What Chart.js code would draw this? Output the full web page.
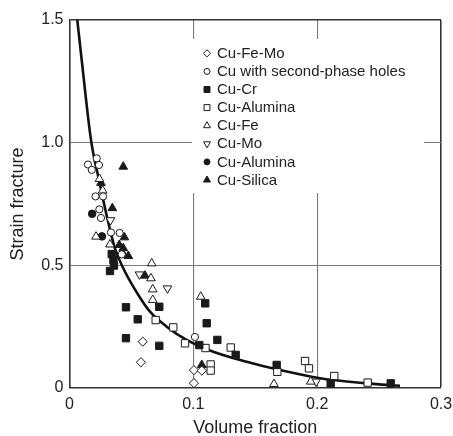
<!DOCTYPE html>
<html>
<head>
<meta charset="utf-8">
<script src="https://cdn.jsdelivr.net/npm/chart.js@4.4.1/dist/chart.umd.min.js"></script>
<style>
  html, body { margin: 0; padding: 0; background: #ffffff; }
  #wrap { width: 453px; height: 436px; position: relative; }
</style>
</head>
<body>
<div id="wrap"><canvas id="c" width="453" height="436"></canvas></div>
<script>
// ---- data ----
const xTickLabels = ['0', '0.1', '0.2', '0.3'];
const yTickLabels = ['0', '0.5', '1.0', '1.5'];

const seriesNames = ['Cu-Fe-Mo', 'Cu with second-phase holes', 'Cu-Cr', 'Cu-Alumina',
                     'Cu-Fe', 'Cu-Mo', 'Cu-Alumina', 'Cu-Silica'];

const cuFeMo = [[0.0591,0.189],[0.0577,0.105],[0.1005,0.073],[0.1068,0.071],[0.1005,0.020]];
const cuHoles = [[0.0220,0.936],[0.0149,0.911],[0.0238,0.909],[0.0180,0.889],[0.0210,0.781],
                 [0.0271,0.781],[0.0241,0.728],[0.0254,0.693],[0.0335,0.634],[0.0405,0.632],
                 [0.0422,0.545],[0.1013,0.208]];
const cuCr = [[0.0341,0.546],[0.0355,0.522],[0.0359,0.499],[0.0327,0.477],[0.0456,0.329],
              [0.0725,0.331],[0.0551,0.280],[0.0456,0.203],[0.0725,0.172],[0.1048,0.175],
              [0.1096,0.345],[0.1108,0.264],[0.1194,0.196],[0.1342,0.135],[0.1673,0.094],
              [0.2109,0.019],[0.2594,0.019]];
const cuAluminaOpen = [[0.0696,0.277],[0.0838,0.247],[0.0933,0.182],[0.1098,0.163],[0.1302,0.165],
                       [0.1140,0.096],[0.1140,0.071],[0.1678,0.066],[0.1902,0.110],[0.1934,0.080],
                       [0.2138,0.049],[0.2408,0.022]];
const cuFe = [[0.0242,0.852],[0.0268,0.805],[0.0214,0.617],[0.0327,0.585],[0.0664,0.508],
              [0.0658,0.447],[0.0672,0.402],[0.0672,0.359],[0.1060,0.372],[0.1651,0.016],
              [0.1948,0.026]];
const cuMo = [[0.0331,0.684],[0.0565,0.463],[0.0791,0.406],[0.1991,0.026]];
const cuAluminaFilled = [[0.0183,0.710],[0.0262,0.618]];
const cuSilica = [[0.0434,0.902],[0.0254,0.836],[0.0346,0.733],[0.0443,0.614],[0.0402,0.583],
                  [0.0434,0.570],[0.0428,0.551],[0.0475,0.538],[0.0610,0.458],[0.1068,0.094]];

// fitted trend curve
const curveX = [0.0063,0.00985,0.01736,0.0238,0.03085,0.0367,0.0434,0.0556,0.0650,0.0785,
                0.0946,0.1161,0.1431,0.1673,0.2023,0.2400,0.2669];
const curveY = [1.500,1.337,1.011,0.848,0.685,0.569,0.488,0.379,0.311,0.250,
                0.196,0.148,0.107,0.076,0.040,0.019,0.0094];

// ---- build chart ----
const FONT = '"Liberation Sans", Arial, Helvetica, sans-serif';
const INK = '#1a1a1a';
const toPts = arr => arr.map(p => ({x: p[0], y: p[1]}));

const markerStyles = [
  {style: 'rectRot',  radius: 4.6, rotation: 0,   fill: '#ffffff', lr: 3.6},
  {style: 'circle',   radius: 3.6, rotation: 0,   fill: '#ffffff', lr: 3.0},
  {style: 'rect',     radius: 5.2, rotation: 0,   fill: INK,       lr: 4.2},
  {style: 'rect',     radius: 5.2, rotation: 0,   fill: '#ffffff', lr: 4.2},
  {style: 'triangle', radius: 5.0, rotation: 0,   fill: '#ffffff', lr: 4.0},
  {style: 'triangle', radius: 5.0, rotation: 180, fill: '#ffffff', lr: 4.0},
  {style: 'circle',   radius: 3.8, rotation: 0,   fill: INK,       lr: 3.0},
  {style: 'triangle', radius: 5.0, rotation: 0,   fill: INK,       lr: 4.0}
];
const seriesData = [cuFeMo, cuHoles, cuCr, cuAluminaOpen, cuFe, cuMo, cuAluminaFilled, cuSilica];

const datasets = seriesData.map((d, i) => ({
  label: seriesNames[i],
  data: toPts(d),
  pointStyle: markerStyles[i].style,
  pointRadius: markerStyles[i].radius,
  pointHoverRadius: markerStyles[i].radius,
  rotation: markerStyles[i].rotation,
  pointRotation: markerStyles[i].rotation,
  backgroundColor: markerStyles[i].fill,
  borderColor: INK,
  borderWidth: 1,
  showLine: false
}));
datasets.push({
  label: 'trend',
  data: curveX.map((x, i) => ({x: x, y: curveY[i]})),
  showLine: true,
  pointRadius: 0,
  borderColor: '#111111',
  borderWidth: 2.6,
  cubicInterpolationMode: 'monotone',
  fill: false
});

const legendBox = {
  id: 'legendBox',
  beforeDatasetsDraw(chart) {
    const ctx = chart.ctx;
    ctx.save();
    ctx.fillStyle = '#ffffff';
    ctx.fillRect(192, 39, 232, 154);
    const x0 = 207, tx = 217, y0 = 53.3, dy = 18.1;
    ctx.font = '15px ' + FONT;
    ctx.textBaseline = 'middle';
    ctx.textAlign = 'left';
    for (let i = 0; i < seriesNames.length; i++) {
      const y = y0 + i * dy;
      const m = markerStyles[i];
      ctx.fillStyle = m.fill;
      ctx.strokeStyle = INK;
      ctx.lineWidth = 1;
      Chart.helpers.drawPoint(ctx, {pointStyle: m.style, radius: m.lr, rotation: m.rotation, borderWidth: 1}, x0, y);
      ctx.fillStyle = '#222222';
      ctx.fillText(seriesNames[i], tx, y + 0.5);
    }
    ctx.restore();
  }
};

new Chart(document.getElementById('c'), {
  type: 'scatter',
  data: { datasets: datasets },
  plugins: [legendBox],
  options: {
    responsive: false,
    devicePixelRatio: 1,
    animation: false,
    layout: { padding: { left: 0, right: 12, top: 20, bottom: 0 } },
    plugins: { legend: { display: false }, tooltip: { enabled: false } },
    scales: {
      x: {
        type: 'linear',
        min: 0, max: 0.3,
        afterFit(scale) { scale.height = 48; scale.paddingRight = 12; scale.paddingLeft = 0; },
        ticks: {
          stepSize: 0.1,
          padding: 7,
          color: '#222',
          font: { family: FONT, size: 16 },
          maxRotation: 0,
          callback: (v, i) => xTickLabels[i]
        },
        grid: {
          drawTicks: false,
          color: ctx => (ctx.index === xTickLabels.length - 1 ? '#333333' : (ctx.index === 0 ? 'rgba(0,0,0,0)' : '#7a7a7a')),
          lineWidth: ctx => (ctx.index === xTickLabels.length - 1 ? 1.6 : 1.1)
        },
        border: { display: true, color: '#333333', width: 1.6 },
        title: {
          display: true,
          text: 'Volume fraction',
          color: '#222',
          font: { family: FONT, size: 18 },
          padding: { top: 0, bottom: -3 }
        }
      },
      y: {
        type: 'linear',
        min: 0, max: 1.5,
        afterFit(scale) { scale.width = 69.5; },
        ticks: {
          stepSize: 0.5,
          padding: 6,
          color: '#222',
          font: { family: FONT, size: 16 },
          callback: (v, i) => yTickLabels[i]
        },
        grid: {
          drawTicks: false,
          color: ctx => (ctx.index === yTickLabels.length - 1 ? '#333333' : (ctx.index === 0 ? 'rgba(0,0,0,0)' : '#7a7a7a')),
          lineWidth: ctx => (ctx.index === yTickLabels.length - 1 ? 1.6 : 1.1)
        },
        border: { display: true, color: '#333333', width: 1.6 },
        title: {
          display: true,
          text: 'Strain fracture',
          color: '#222',
          font: { family: FONT, size: 18 },
          padding: { top: 7, bottom: 0 }
        }
      }
    }
  }
});
</script>
</body>
</html>
